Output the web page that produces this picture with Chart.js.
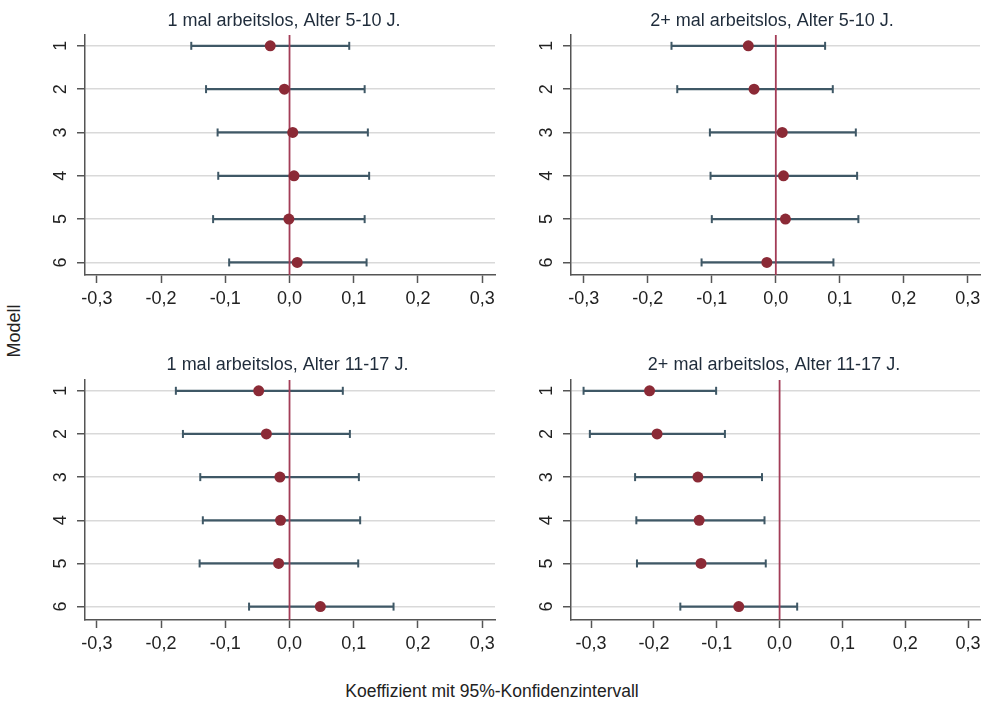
<!DOCTYPE html>
<html><head><meta charset="utf-8">
<script src="https://cdn.jsdelivr.net/npm/chart.js@4.4.0/dist/chart.umd.min.js"></script>
<style>
html,body{margin:0;padding:0;background:#fff;}
#wrap{position:relative;width:985px;height:704px;overflow:hidden;font-family:"Liberation Sans",Arial,sans-serif;background:#fff;}
canvas{position:absolute;}
.lbl{position:absolute;color:#222;white-space:nowrap;line-height:1;}
#ylab{left:14px;top:331px;font-size:18px;transform:translate(-50%,-50%) rotate(-90deg);}
#xlab{left:492px;top:692px;font-size:17.5px;transform:translate(-50%,-50%);}
</style></head><body>
<div id="wrap">
<canvas id="c1"></canvas>
<canvas id="c2"></canvas>
<canvas id="c3"></canvas>
<canvas id="c4"></canvas>
<div class="lbl" id="ylab">Modell</div>
<div class="lbl" id="xlab">Koeffizient mit 95%-Konfidenzintervall</div>
</div>
<script>
// ---- data ----
const models = [1, 2, 3, 4, 5, 6];
const xTicks = [-0.3, -0.2, -0.1, 0, 0.1, 0.2, 0.3];
const refX = 0;

const title1 = "1 mal arbeitslos, Alter 5-10 J.";
const lo1   = [-0.153, -0.130, -0.112, -0.111, -0.119, -0.094];
const coef1 = [-0.030, -0.008,  0.005,  0.007, -0.001,  0.012];
const hi1   = [ 0.093,  0.117,  0.122,  0.124,  0.117,  0.120];

const title2 = "2+ mal arbeitslos, Alter 5-10 J.";
const lo2   = [-0.163, -0.154, -0.103, -0.102, -0.100, -0.116];
const coef2 = [-0.043, -0.034,  0.010,  0.012,  0.015, -0.014];
const hi2   = [ 0.077,  0.089,  0.125,  0.127,  0.129,  0.090];

const title3 = "1 mal arbeitslos, Alter 11-17 J.";
const lo3   = [-0.177, -0.166, -0.139, -0.135, -0.140, -0.063];
const coef3 = [-0.048, -0.036, -0.015, -0.014, -0.017,  0.048];
const hi3   = [ 0.083,  0.094,  0.108,  0.110,  0.107,  0.162];

const title4 = "2+ mal arbeitslos, Alter 11-17 J.";
const lo4   = [-0.312, -0.302, -0.230, -0.228, -0.227, -0.158];
const coef4 = [-0.207, -0.195, -0.130, -0.128, -0.125, -0.065];
const hi4   = [-0.101, -0.087, -0.028, -0.024, -0.022,  0.028];

// ---- styling / layout ----
const FONT = '"Liberation Sans", Arial, sans-serif';
Chart.defaults.font.family = FONT;
const CI_COLOR = '#3f5866';
const PT_COLOR = '#8b2a36';
const REF_COLOR = '#a33c57';
const AXIS_COLOR = '#555555';
const GRID_COLOR = '#d9d9d9';
const TITLE_SIZE = 18, TITLE_LH = 1.2;
const Y_AXIS_W = 60;

function makePanel(id, title, lo, coef, hi, L) {
  const cv = document.getElementById(id);
  const x0 = L.area.l - Y_AXIS_W;
  const span = 2 * (L.title.x - x0);          // width of title box (centred title)
  const rW = span - (L.area.r - x0);          // spacer on the right
  cv.width = span; cv.height = L.h;
  cv.style.left = x0 + 'px'; cv.style.top = L.y + 'px';
  const aT = L.area.t - L.y, aB = L.area.b - L.y;
  const ty = L.title.y - L.y;
  const lineH = TITLE_SIZE * TITLE_LH;
  const padTop = ty - lineH / 2;
  const padBot = aT - padTop - lineH;
  const xH = L.h - aB;

  const ciData = [];
  models.forEach((m, i) => {
    ciData.push({x: lo[i], y: m});
    ciData.push({x: hi[i], y: m});
    ciData.push({x: null, y: null});
  });
  const ptData = models.map((m, i) => ({x: coef[i], y: m}));
  const refData = [{x: refX, y: L.yr[0]}, {x: refX, y: L.yr[1]}];

  return new Chart(cv, {
    type: 'line',
    data: {
      datasets: [
        {data: ptData, showLine: false, pointRadius: 5.5, pointHoverRadius: 5.5,
         pointBackgroundColor: PT_COLOR, pointBorderWidth: 0, borderColor: PT_COLOR, order: 0},
        {data: refData, borderColor: REF_COLOR, borderWidth: 1.8, pointRadius: 0, order: 1},
        {data: ciData, borderColor: CI_COLOR, borderWidth: 2.2, spanGaps: false,
         pointStyle: 'line', pointRotation: 90, pointRadius: 4, pointHoverRadius: 4,
         pointBorderColor: CI_COLOR, pointBorderWidth: 2, order: 2}
      ]
    },
    options: {
      responsive: false, animation: false, devicePixelRatio: 1,
      events: [],
      layout: {autoPadding: false, padding: 0},
      plugins: {
        legend: {display: false},
        tooltip: {enabled: false},
        title: {display: true, text: title, color: '#1f2c3b',
          font: {size: TITLE_SIZE, weight: 'normal', lineHeight: TITLE_LH},
          padding: {top: padTop, bottom: padBot}}
      },
      scales: {
        x: {
          type: 'linear', min: L.xr[0], max: L.xr[1],
          afterBuildTicks: s => { s.ticks = xTicks.map(v => ({value: v})); },
          afterFit: s => { s.height = xH; },
          ticks: {color: '#222', font: {size: 18}, padding: 5, maxRotation: 0, autoSkip: false,
            callback: v => (Math.abs(v) < 1e-9 ? 0 : v).toFixed(1).replace('.', ',')},
          grid: {drawOnChartArea: false, drawTicks: true, tickLength: 8, tickColor: AXIS_COLOR, tickWidth: 1.5},
          border: {display: true, color: AXIS_COLOR, width: 1.5}
        },
        y: {
          type: 'linear', position: 'left', reverse: true, min: L.yr[0], max: L.yr[1],
          afterBuildTicks: s => { s.ticks = models.map(v => ({value: v})); },
          afterFit: s => { s.width = Y_AXIS_W; },
          ticks: {color: '#222', font: {size: 18}, padding: 11, minRotation: 90, maxRotation: 90,
            crossAlign: 'center', autoSkip: false, callback: v => String(v)},
          grid: {color: GRID_COLOR, lineWidth: 1.5, drawTicks: true, tickLength: 8,
            tickColor: AXIS_COLOR, tickWidth: 1.5},
          border: {display: true, color: AXIS_COLOR, width: 1.5}
        },
        ySpacer: {
          type: 'linear', position: 'right', min: 0, max: 1,
          afterFit: s => { s.width = rW; },
          ticks: {display: false},
          grid: {display: false, drawOnChartArea: false, drawTicks: false},
          border: {display: false}
        }
      }
    }
  });
}

makePanel('c1', title1, lo1, coef1, hi1, {
  y: 0, h: 325, area: {l: 85, r: 495, t: 35, b: 275},
  title: {x: 284, y: 21}, xr: [-0.3185, 0.32], yr: [0.75, 6.29]});
makePanel('c2', title2, lo2, coef2, hi2, {
  y: 0, h: 325, area: {l: 571, r: 980, t: 35, b: 275},
  title: {x: 772, y: 21}, xr: [-0.32, 0.319], yr: [0.75, 6.29]});
makePanel('c3', title3, lo3, coef3, hi3, {
  y: 335, h: 335, area: {l: 85, r: 495, t: 380, b: 620},
  title: {x: 287.5, y: 365}, xr: [-0.3185, 0.32], yr: [0.75, 6.31]});
makePanel('c4', title4, lo4, coef4, hi4, {
  y: 335, h: 335, area: {l: 571, r: 980, t: 380, b: 620},
  title: {x: 774, y: 365}, xr: [-0.332, 0.319], yr: [0.75, 6.31]});
</script>
</body></html>
